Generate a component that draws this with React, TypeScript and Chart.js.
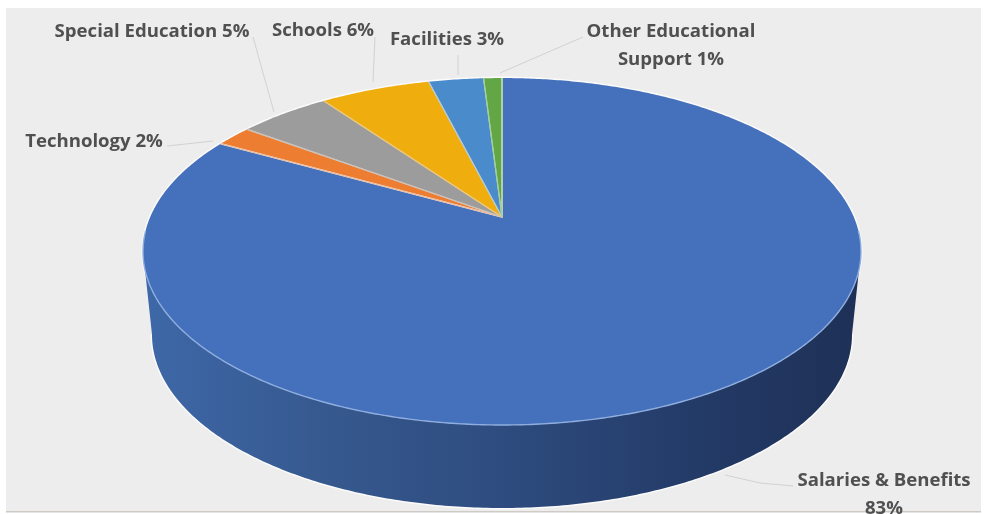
import { useEffect, useRef } from "react";
import { Chart, registerables } from "chart.js";

Chart.register(...registerables);

const categories = [
  "Salaries & Benefits",
  "Technology",
  "Special Education",
  "Schools",
  "Facilities",
  "Other Educational Support",
];
const shares = [83, 2, 5, 6, 3, 1];
const sliceColors = ["#4470BC", "#ED7D31", "#9C9C9C", "#F0AD0E", "#4A8BCB", "#62A645"];
const edgeColors = ["#DCE6F5", "#F3B98F", "#C4C4C4", "#F5C766", "#A8CDEB", "#A9D08E"];

// Text lines of each callout, with their centre and the leader line beneath them.
const calloutLines = [
  { lines: ["Salaries & Benefits", "83%"], x: 884, y: 481, leader: [[725, 475], [760, 483], [793, 486]] },
  { lines: ["Technology 2%"], x: 94, y: 142, leader: [[167, 146], [213, 141]] },
  { lines: ["Special Education 5%"], x: 152, y: 32, leader: [[253, 37], [274, 112]] },
  { lines: ["Schools 6%"], x: 323, y: 31, leader: [[375, 37], [373, 82]] },
  { lines: ["Facilities 3%"], x: 447, y: 40, leader: [[458, 55], [458, 75]] },
  { lines: ["Other Educational", "Support 1%"], x: 671, y: 32, leader: [[583, 37], [500, 73]] },
];

// Perspective applied to the flat pie: tilt, apex and the drop of the lower face.
const view = { cx: 502, cy: 217, a: 351.8, b: 166.6, k: 0.199, drop: 83, lowerScale: 0.975 };

const project = (angle: number, lower = false) => {
  const u = Math.cos(angle);
  const v = Math.sin(angle);
  const w = 1 - view.k * v;
  const sx = lower ? view.lowerScale : 1;
  return {
    x: view.cx + (view.a * u * sx) / w,
    y: view.cy + (view.b * v) / w + (lower ? view.drop : 0),
  };
};

const arcPath = (ctx: CanvasRenderingContext2D, from: number, to: number, lower = false, move = false) => {
  const steps = Math.max(2, Math.ceil(Math.abs(to - from) / 0.01));
  for (let i = 0; i <= steps; i++) {
    const p = project(from + ((to - from) * i) / steps, lower);
    if (i === 0 && move) ctx.moveTo(p.x, p.y);
    else ctx.lineTo(p.x, p.y);
  }
};

const tiltedPie = {
  id: "tiltedPie",
  beforeDraw(chart: Chart) {
    const { ctx } = chart;
    ctx.save();
    ctx.fillStyle = "#ffffff";
    ctx.fillRect(0, 0, 992, 514);
    ctx.fillStyle = "#EDEDED";
    ctx.fillRect(6, 8, 975, 503);
    ctx.fillStyle = "#CFCBC4";
    ctx.fillRect(6, 511, 975, 1.5);
    ctx.restore();
  },
  beforeDatasetDraw(chart: Chart) {
    const { ctx } = chart;
    const arcs = chart.getDatasetMeta(0).data as any[];
    const side = Math.asin(view.k);

    ctx.save();
    ctx.lineJoin = "round";

    // Pale outline around the whole solid
    ctx.beginPath();
    arcPath(ctx, 0, Math.PI * 2, false, true);
    ctx.closePath();
    arcPath(ctx, side, Math.PI - side, true, true);
    ctx.strokeStyle = "rgba(255,255,255,0.75)";
    ctx.lineWidth = 3;
    ctx.stroke();

    // Side wall below the front rim
    const wall = ctx.createLinearGradient(143, 0, 861, 0);
    wall.addColorStop(0, "#3E68A8");
    wall.addColorStop(0.25, "#36598F");
    wall.addColorStop(0.5, "#2E4C7F");
    wall.addColorStop(0.75, "#243C69");
    wall.addColorStop(1, "#1E3056");
    ctx.beginPath();
    arcPath(ctx, side, Math.PI - side, false, true);
    arcPath(ctx, Math.PI - side, side, true);
    ctx.closePath();
    ctx.fillStyle = wall;
    ctx.fill();

    // Top faces, using the angles the pie controller computed
    arcs.forEach((arc, i) => {
      const { startAngle, endAngle } = arc.getProps(["startAngle", "endAngle"], true);
      ctx.beginPath();
      ctx.moveTo(view.cx, view.cy);
      arcPath(ctx, startAngle, endAngle);
      ctx.closePath();
      ctx.fillStyle = sliceColors[i];
      ctx.fill();
    });

    // Pale seams between slices
    arcs.forEach((arc, i) => {
      const { startAngle, endAngle } = arc.getProps(["startAngle", "endAngle"], true);
      const a = project(startAngle);
      const b = project(endAngle);
      ctx.beginPath();
      ctx.moveTo(a.x, a.y);
      ctx.lineTo(view.cx, view.cy);
      ctx.lineTo(b.x, b.y);
      ctx.strokeStyle = edgeColors[i];
      ctx.lineWidth = i === 0 ? 1.5 : 1.2;
      ctx.stroke();
    });

    // Highlight along the front rim
    ctx.beginPath();
    arcPath(ctx, side - 0.12, Math.PI - side + 0.12, false, true);
    ctx.strokeStyle = "#8FAEDF";
    ctx.lineWidth = 1.4;
    ctx.stroke();
    ctx.restore();
    return false;
  },
  afterDatasetsDraw(chart: Chart) {
    const { ctx } = chart;
    ctx.save();
    ctx.strokeStyle = "#D2D2D2";
    ctx.lineWidth = 1;
    ctx.fillStyle = "#505050";
    ctx.font = '700 18.6px "Open Sans"';
    ctx.textAlign = "center";
    ctx.textBaseline = "middle";
    calloutLines.forEach((c) => {
      ctx.beginPath();
      c.leader.forEach(([x, y], i) => (i === 0 ? ctx.moveTo(x, y) : ctx.lineTo(x, y)));
      ctx.stroke();
      c.lines.forEach((line, i) => ctx.fillText(line, c.x, c.y + i * 28));
    });
    ctx.restore();
  },
};

export default function App() {
  const canvasRef = useRef<HTMLCanvasElement>(null);

  useEffect(() => {
    document.body.style.margin = "0";
    const chart = new Chart(canvasRef.current!, {
      type: "pie",
      data: {
        labels: categories,
        datasets: [{ data: shares, backgroundColor: sliceColors, borderColor: edgeColors }],
      },
      options: {
        responsive: false,
        animation: false,
        plugins: { legend: { display: false }, tooltip: { enabled: false } },
      },
      plugins: [tiltedPie],
    });
    return () => chart.destroy();
  }, []);

  return <canvas ref={canvasRef} width={992} height={514} style={{ display: "block" }} />;
}
